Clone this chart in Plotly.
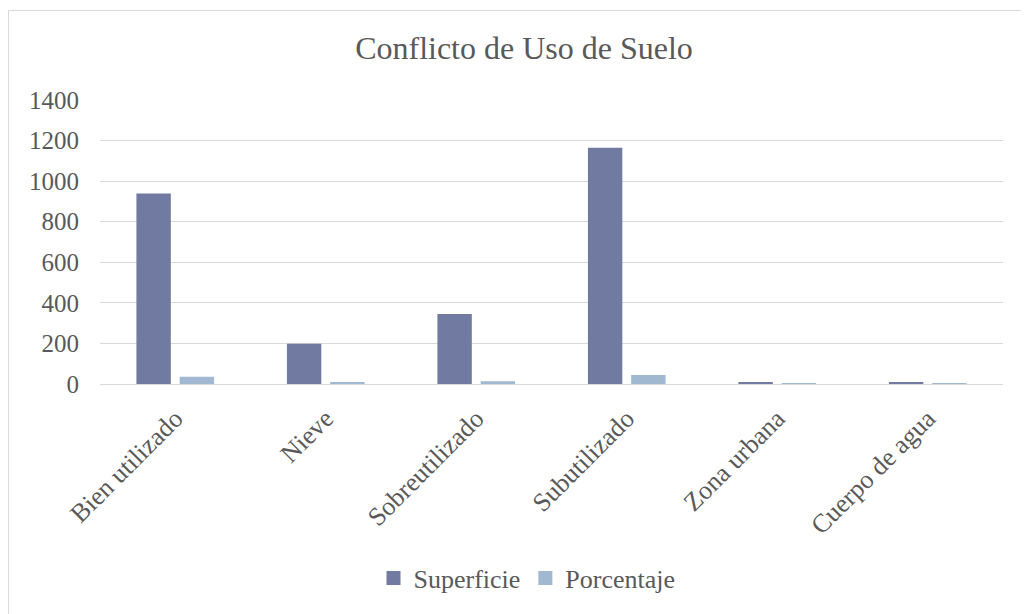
import plotly.graph_objects as go

categories = ["Bien utilizado", "Nieve", "Sobreutilizado", "Subutilizado", "Zona urbana", "Cuerpo de agua"]
superficie = [939, 198, 345, 1164, 5, 5]
porcentaje = [35.4, 7.4, 13.0, 43.8, 0.2, 0.2]
y_ticks = [0, 200, 400, 600, 800, 1000, 1200, 1400]
series_names = ["Superficie", "Porcentaje"]
series_colors = ["#717ba1", "#a0b9d0"]

FONT = "Liberation Serif, Times New Roman, serif"
TXT = "#595959"
GRID = "#d9d9d9"

W, H = 1021, 606          # page body has an 8px margin
ML, MR, MT, MB = 92, 26, 92, 230
PW, PH = W - ML - MR, H - MT - MB

fig = go.Figure()
for name, vals, col in zip(series_names, [superficie, porcentaje], series_colors):
    fig.add_trace(go.Bar(name=name, x=categories, y=vals, showlegend=False,
                         marker=dict(color=col, line=dict(width=0))))
# legend entries with larger square swatches
for name, col in zip(series_names, series_colors):
    fig.add_trace(go.Scatter(name=name, x=[None], y=[None], mode="markers",
                             marker=dict(symbol="square", size=14, color=col),
                             showlegend=True))

fig.update_layout(
    width=W, height=H,
    paper_bgcolor="white", plot_bgcolor="white",
    margin=dict(l=ML, r=MR, t=MT, b=MB),
    barmode="group", bargap=0.425, bargroupgap=0.205,
    title=dict(text="Conflicto de Uso de Suelo", x=(524 - 8 - ML) / PW, xref="paper", xanchor="center",
               y=1 - 40 / H, yanchor="middle",
               font=dict(family=FONT, size=32, color=TXT)),
    font=dict(family=FONT, size=25, color=TXT),
    legend=dict(orientation="h", x=(527 - 8 - ML) / PW, xanchor="center",
                y=-(570 - (H - MB)) / PH, yanchor="middle",
                font=dict(family=FONT, size=26, color=TXT), itemwidth=30),
)
fig.update_yaxes(range=[0, 1400], tickvals=y_ticks, showgrid=True, gridcolor=GRID, gridwidth=1,
                 zeroline=True, zerolinecolor=GRID, zerolinewidth=1, showline=False,
                 ticks="", ticklabelstandoff=20,
                 tickfont=dict(family=FONT, size=25, color=TXT))
fig.update_xaxes(tickangle=-45, showline=True, linecolor=GRID, linewidth=1, ticks="",
                 ticklabelstandoff=8,
                 tickfont=dict(family=FONT, size=26, color=TXT))

# outer chart border
fig.add_shape(type="rect", xref="paper", yref="paper",
              x0=(0.5 - ML) / PW, x1=(W + 20 - ML) / PW,
              y0=-(H + 20 - (H - MB)) / PH, y1=((H - MB) - 2.5) / PH,
              line=dict(color=GRID, width=1), fillcolor="rgba(0,0,0,0)", layer="below")

fig.write_html("out.html")
